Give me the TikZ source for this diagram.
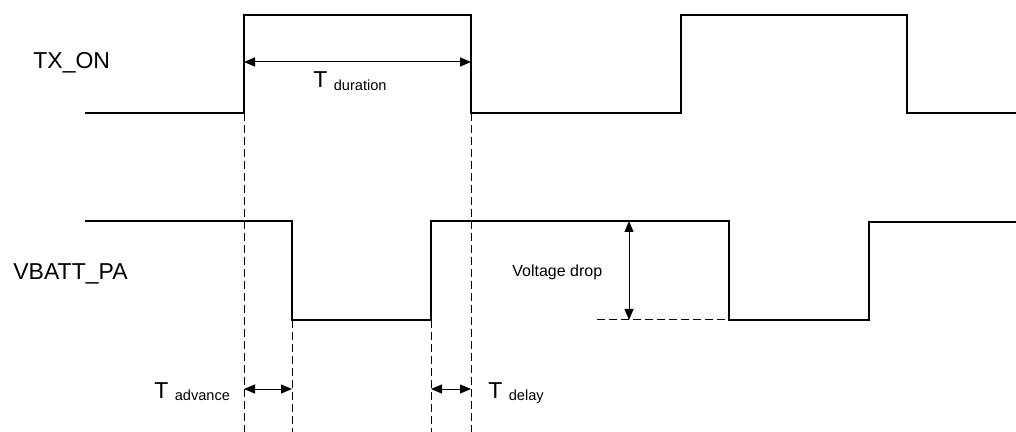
\documentclass[tikz,border=0pt]{standalone}
\usepackage{fontspec}
\setmainfont{Liberation Sans}
\usetikzlibrary{arrows.meta}

\tikzset{
	signal/.style={line width=1.25pt, line join=miter},
	guide/.style={line width=0.5pt, dash pattern=on 4pt off 2pt},
	span/.style={line width=0.5pt, {Triangle[length=5.5pt,width=4.5pt]}-{Triangle[length=5.5pt,width=4.5pt]}},
	label/.style={inner sep=0pt, anchor=base west, font=\fontsize{11.5}{13}\selectfont},
	small/.style={inner sep=0pt, anchor=base west, font=\fontsize{8}{9.5}\selectfont}
}
\newcommand{\tsub}[1]{T \raisebox{-1.5pt}{\fontsize{7.3}{8.5}\selectfont #1}}

\begin{document}
\begin{tikzpicture}[x=0.5pt,y=-0.5pt]
	\useasboundingbox (0,0) rectangle (1016,432);

	% Signal names
	\node[label] (TxName) at (33,69) {TX\_ON};
	\node[label] (VbName) at (13,280) {VBATT\_PA};

	% TX_ON
	\coordinate (TxRise1) at (244,113);
	\coordinate (TxFall1) at (471,113);
	\draw[signal] (85,113) -- (TxRise1) -- (244,15) -- (471,15) -- (TxFall1)
		-- (681,113) -- (681,15) -- (907,15) -- (907,113) -- (1016,113);

	% VBATT_PA
	\coordinate (VbFall1) at (292,320);
	\coordinate (VbRise1) at (431,320);
	\coordinate (VbFall2) at (729,320);
	\draw[signal] (85,221) -- (292,221) -- (VbFall1) -- (VbRise1) -- (431,221)
		-- (729,221) -- (VbFall2) -- (869,320) -- (869,222) -- (1016,222);

	% Guides
	\coordinate (GuideA) at (244,432);
	\coordinate (GuideB) at (292,432);
	\coordinate (GuideC) at (431,432);
	\coordinate (GuideD) at (471,432);
	\coordinate (DropLeft) at (597,320);
	\draw[guide] (TxRise1) -- (GuideA);
	\draw[guide] (VbFall1) -- (GuideB);
	\draw[guide] (VbRise1) -- (GuideC);
	\draw[guide] (TxFall1) -- (GuideD);
	\draw[guide] (DropLeft) -- (VbFall2);

	% Durations
	\coordinate (DurL) at (244,62);
	\coordinate (DurR) at (471,62);
	\draw[span] (DurL) -- (DurR);
	\node[label] (Duration) at (313,88) {\tsub{duration}};

	\coordinate (AdvL) at (244,389);
	\coordinate (AdvR) at (292,389);
	\draw[span] (AdvL) -- (AdvR);
	\node[label] (Advance) at (154,398) {\tsub{advance}};

	\coordinate (DelL) at (431,389);
	\coordinate (DelR) at (471,389);
	\draw[span] (DelL) -- (DelR);
	\node[label] (Delay) at (488,398) {\tsub{delay}};

	% Voltage drop
	\coordinate (DropTop) at (629,221);
	\coordinate (DropBot) at (629,320);
	\draw[span] (DropTop) -- (DropBot);
	\node[small] (Drop) at (512,277) {Voltage drop};

\end{tikzpicture}
\end{document}
